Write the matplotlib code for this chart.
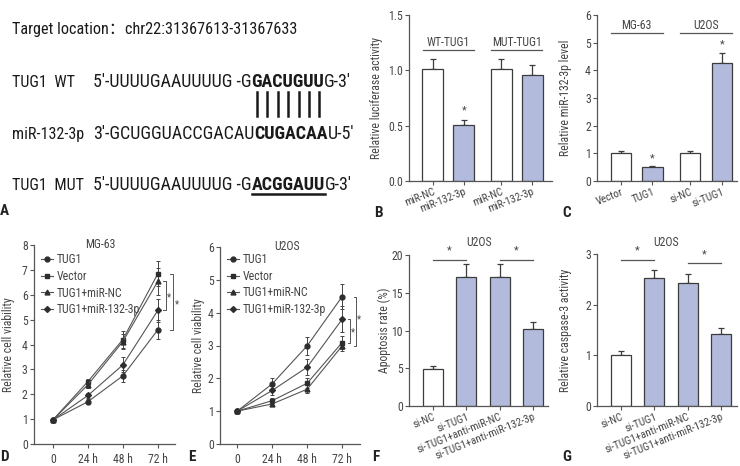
import numpy as np
import matplotlib
matplotlib.use('Agg')
import matplotlib.pyplot as plt
from matplotlib import font_manager as fm

# ---------------- data ----------------
b_labels = ['miR-NC', 'miR-132-3p', 'miR-NC', 'miR-132-3p']
b_values = [1.01, 0.51, 1.01, 0.96]
b_errors = [0.09, 0.045, 0.09, 0.09]
b_colored = [False, True, False, True]
b_groups = ['WT-TUG1', 'MUT-TUG1']
b_yticks = [0.0, 0.5, 1.0, 1.5]

c_labels = ['Vector', 'TUG1', 'si-NC', 'si-TUG1']
c_values = [1.02, 0.49, 1.02, 4.28]
c_errors = [0.06, 0.06, 0.06, 0.35]
c_colored = [False, True, False, True]
c_groups = ['MG-63', 'U2OS']
c_yticks = [0, 1, 2, 3, 4, 5, 6]

time_labels = ['0', '24 h', '48 h', '72 h']
series_names = ['TUG1', 'Vector', 'TUG1+miR-NC', 'TUG1+miR-132-3p']
series_markers = ['o', 's', '^', 'D']

d_tug1 = [0.97, 1.70, 2.74, 4.59]
d_vector = [0.97, 2.51, 4.20, 6.85]
d_mirnc = [0.97, 2.38, 4.12, 6.54]
d_mir132 = [0.97, 1.95, 3.18, 5.37]
d_err_tug1 = [0.05, 0.10, 0.25, 0.38]
d_err_vector = [0.05, 0.12, 0.35, 0.50]
d_err_mirnc = [0.05, 0.12, 0.30, 0.55]
d_err_mir132 = [0.05, 0.12, 0.30, 0.47]

e_tug1 = [1.0, 1.83, 2.99, 4.49]
e_vector = [1.0, 1.32, 1.85, 3.09]
e_mirnc = [1.0, 1.22, 1.67, 2.99]
e_mir132 = [1.0, 1.63, 2.34, 3.80]
e_err_tug1 = [0.03, 0.17, 0.28, 0.37]
e_err_vector = [0.03, 0.08, 0.15, 0.20]
e_err_mirnc = [0.03, 0.06, 0.12, 0.15]
e_err_mir132 = [0.03, 0.15, 0.25, 0.40]

fg_labels = ['si-NC', 'si-TUG1', 'si-TUG1+anti-miR-NC', 'si-TUG1+anti-miR-132-3p']
fg_colored = [False, True, True, True]
f_values = [4.94, 17.04, 17.04, 10.15]
f_errors = [0.30, 1.75, 1.75, 0.93]
f_yticks = [0, 5, 10, 15, 20]
g_values = [1.01, 2.52, 2.42, 1.42]
g_errors = [0.08, 0.17, 0.19, 0.12]
g_yticks = [0, 1, 2, 3]

# ---------------- fonts ----------------
def pick(names):
    for n in names:
        try:
            fm.findfont(fm.FontProperties(family=n), fallback_to_default=False)
            return n
        except Exception:
            pass
    return 'DejaVu Sans'

FONT = pick(['Liberation Sans Narrow', 'Roboto Condensed', 'Liberation Sans', 'Roboto'])
plt.rcParams['font.family'] = [FONT, 'DejaVu Sans']

W, H = 740, 466
fig = plt.figure(figsize=(W / 100, H / 100), dpi=100)
fig.patch.set_facecolor('white')

GRAY = '#555555'
TXT = '#444444'
EDGE = '#3c3c3c'
BLUE = '#b3bbdd'
FS = 8.5      # tick labels
FL = 8.5      # axis labels
FX = 7.8      # rotated x labels


def add_axes_px(l, t, r, b):
    return fig.add_axes([l / W, (H - b) / H, (r - l) / W, (b - t) / H])


def style(ax):
    for s in ['top', 'right']:
        ax.spines[s].set_visible(False)
    for s in ['left', 'bottom']:
        ax.spines[s].set_color(GRAY)
        ax.spines[s].set_linewidth(0.9)
    ax.tick_params(direction='out', length=3, width=0.8, color=GRAY,
                   labelsize=FS, labelcolor=TXT, pad=1.5)
    ax.set_facecolor('none')


def bar_panel(rect, xpos, labels, values, errors, colored, yticks, yfmt,
              ylabel, ylabel_x, width, rot=22):
    ax = add_axes_px(*rect)
    style(ax)
    colors = [BLUE if c else 'white' for c in colored]
    ax.errorbar(xpos, values, yerr=[np.zeros(len(values)), errors], fmt='none',
                ecolor=EDGE, elinewidth=0.9, capsize=2.5, capthick=0.9, zorder=1)
    ax.bar(xpos, values, width=width, color=colors, edgecolor=EDGE,
           linewidth=0.9, zorder=2)
    ax.set_ylim(yticks[0], yticks[-1])
    ax.set_yticks(yticks)
    ax.set_yticklabels([yfmt.format(v) for v in yticks])
    ax.set_xticks(xpos)
    ax.set_xticklabels(labels, rotation=rot, ha='right', va='top',
                       rotation_mode='anchor', fontsize=FX)
    ax.tick_params(axis='x', pad=1.0)
    ax.set_ylabel(ylabel, fontsize=FL, color=TXT)
    ax.yaxis.set_label_coords(ylabel_x, 0.5)
    return ax


def hline(ax, x0, x1, y):
    ax.plot([x0, x1], [y, y], color=GRAY, lw=0.9, clip_on=False)


def star(ax, x, y, size=8):
    ax.text(x, y, '*', ha='center', va='center', fontsize=size, color=TXT,
            clip_on=False)


# ---------------- panel B ----------------
xb = [0, 1, 2.2, 3.2]
axB = bar_panel((409, 15, 552, 181), xb, b_labels, b_values, b_errors, b_colored,
                b_yticks, '{:.1f}', 'Relative luciferase activity', -0.18, 0.68)
axB.set_xlim(-0.77, 3.84)
for gi, name in enumerate(b_groups):
    x0, x1 = xb[2 * gi] - 0.32, xb[2 * gi + 1] + 0.32
    hline(axB, x0, x1, 1.18)
    axB.text((x0 + x1) / 2, 1.255, name, ha='center', va='center', fontsize=FS, color=TXT)
star(axB, xb[1], 0.64)

# ---------------- panel C ----------------
xc = [0, 1, 2.2, 3.2]
axC = bar_panel((597, 15, 737, 181), xc, c_labels, c_values, c_errors, c_colored,
                c_yticks, '{:d}', 'Relative miR-132-3p level', -0.18, 0.64)
axC.set_xlim(-0.76, 3.68)
for gi, name in enumerate(c_groups):
    x0, x1 = xc[2 * gi] - 0.32, xc[2 * gi + 1] + 0.32
    hline(axC, x0, x1, 5.35)
    axC.text((x0 + x1) / 2, 5.62, name, ha='center', va='center', fontsize=FS, color=TXT)
star(axC, xc[1], 0.8)
star(axC, xc[3], 4.95)


# ---------------- panels D / E ----------------
def line_panel(rect, xlim, ytop, title, title_x, vals, errs, ylabel_x, legend_anchor):
    ax = add_axes_px(*rect)
    style(ax)
    xs = np.arange(len(time_labels))
    for name, mk, v, e in zip(series_names, series_markers, vals, errs):
        ax.errorbar(xs, v, yerr=e, fmt='none', ecolor='#444444', elinewidth=0.7,
                    capsize=1.3, capthick=0.7, zorder=2)
        ms = 3.0 if mk == 'D' else 3.5
        ax.plot(xs, v, color='#555555', lw=0.8, marker=mk, ms=ms,
                mfc='#2e2e2e', mec='#2e2e2e', label=name, zorder=3)
    ax.set_xlim(*xlim)
    ax.set_ylim(0, ytop)
    ax.set_yticks(range(0, ytop + 1))
    ax.set_xticks(xs)
    ax.set_xticklabels(time_labels)
    ax.tick_params(axis='x', pad=3.5)
    ax.set_ylabel('Relative cell viability', fontsize=FL, color=TXT)
    ax.yaxis.set_label_coords(ylabel_x, 0.5)
    ax.text(title_x, 1.005, title, transform=ax.transAxes, ha='center', va='center',
            fontsize=FS, color=TXT)
    leg = ax.legend(loc='upper left', bbox_to_anchor=legend_anchor, frameon=False,
                    fontsize=FS, handlelength=1.0, handletextpad=0.35,
                    labelspacing=0.32, borderaxespad=0, borderpad=0)
    for t in leg.get_texts():
        t.set_color(TXT)
    return ax


def bracket(ax, x, y0, y1, sx, sy):
    ax.plot([x - 0.07, x, x, x - 0.07], [y0, y0, y1, y1], color=GRAY, lw=0.7,
            clip_on=False)
    star(ax, sx, sy, 7)


axD = line_panel((34, 245, 175, 444), (-0.54, 3.49), 8, 'MG-63', 0.47,
                 [d_tug1, d_vector, d_mirnc, d_mir132],
                 [d_err_tug1, d_err_vector, d_err_mirnc, d_err_mir132], -0.135,
                 (0.05, 0.96))
bracket(axD, 3.23, d_mirnc[-1], d_mir132[-1], 3.33, 5.9)
bracket(axD, 3.43, d_vector[-1], d_tug1[-1], 3.54, 5.63)

axE = line_panel((220, 247, 360, 444), (-0.49, 3.51), 6, 'U2OS', 0.48,
                 [e_tug1, e_vector, e_mirnc, e_mir132],
                 [e_err_tug1, e_err_vector, e_err_mirnc, e_err_mir132], -0.107,
                 (0.05, 0.97))
bracket(axE, 3.23, e_mir132[-1], e_vector[-1], 3.31, 3.4)
bracket(axE, 3.40, e_tug1[-1], e_mirnc[-1], 3.49, 3.8)

# ---------------- panels F / G ----------------
xf = [0, 1, 2, 3]
axF = bar_panel((409, 255, 548, 406), xf, fg_labels, f_values, f_errors, fg_colored,
                f_yticks, '{:d}', 'Apoptosis rate (%)', -0.13, 0.6)
axF.set_xlim(-0.72, 3.45)
hline(axF, 0, 1, 19.3)
hline(axF, 2, 3, 19.3)
star(axF, 0.5, 20.6)
star(axF, 2.5, 20.6)
axF.text(1.38, 21.7, 'U2OS', ha='center', va='center', fontsize=FS, color=TXT)

axG = bar_panel((597, 254, 737, 406), xf, fg_labels, g_values, g_errors, fg_colored,
                g_yticks, '{:d}', 'Relative caspase-3 activity', -0.18, 0.6)
axG.set_xlim(-0.72, 3.48)
hline(axG, 0, 1, 2.89)
hline(axG, 2, 3, 2.82)
star(axG, 0.5, 3.07)
star(axG, 2.5, 2.99)
axG.text(1.35, 3.23, 'U2OS', ha='center', va='center', fontsize=FS, color=TXT)

# ---------------- panel A (sequence text) ----------------
axA = fig.add_axes([0, 0, 1, 1])
axA.set_xlim(0, W)
axA.set_ylim(H, 0)
axA.axis('off')
axA.patch.set_alpha(0)
R = fig.canvas.get_renderer()


def tw(s, size, bold):
    fp = fm.FontProperties(family=FONT, size=size, weight='bold' if bold else 'normal')
    w, h, d = R.get_text_width_height_descent(s, fp, ismath=False)
    return w


wt_pieces = [("5'-UUUUGAAUUUUG -G", False), ('GACUGUU', True), ("G-3'", False)]
mir_pieces = [("3'-GCUGGUACCGACAU", False), ('CUGACAA', True), ("U-5'", False)]
mut_pieces = [("5'-UUUUGAAUUUUG -G", False), ('ACGGAUU', True), ("G-3'", False)]

base = 12.0
wt_w = sum(tw(s, base, b) for s, b in wt_pieces)
SZ = base * 257.0 / wt_w
title_str = 'Target location：chr22:31367613-31367633'
title_w = tw('Target location:  chr22:31367613-31367633', base, False)
SZT = min(base * 280.0 / title_w, SZ * 1.05)
# label size so that 'miR-132-3p' ends just before the sequence start
SZL = min(SZ, base * 72.0 / tw('miR-132-3p', base, False))

axA.text(12, 34, title_str, fontsize=SZT, ha='left', va='baseline', color='#1a1a1a',
         family=[FONT, 'Noto Sans CJK SC', 'DejaVu Sans'])

SEQ_X = 93


def draw_seq(y, label, pieces, underline_bold=False, bars=None):
    axA.text(12, y, label, fontsize=SZL, ha='left', va='baseline', color='#1a1a1a')
    x = SEQ_X
    for s, b in pieces:
        axA.text(x, y, s, fontsize=SZ, ha='left', va='baseline', color='#1a1a1a',
                 fontweight='bold' if b else 'normal')
        w = tw(s, SZ, b)
        if b and underline_bold:
            axA.plot([x, x + w], [y + 4, y + 4], color='#1a1a1a', lw=1.8)
        if b and bars is not None:
            for k in range(len(s)):
                c = x + (tw(s[:k], SZ, True) if k else 0) + tw(s[k], SZ, True) / 2
                axA.plot([c, c], bars, color='#1a1a1a', lw=1.8)
        x += w


draw_seq(87, 'TUG1  WT', wt_pieces, bars=(92, 116))
draw_seq(139, 'miR-132-3p', mir_pieces)
draw_seq(190, 'TUG1  MUT', mut_pieces, underline_bold=True)

# ---------------- panel letters ----------------
for letter, x, y in [('A', 0, 211), ('B', 374, 213), ('C', 562, 213),
                     ('D', 0, 457), ('E', 188, 457), ('F', 372, 457), ('G', 562, 457)]:
    axA.text(x, y, letter, fontsize=11, fontweight='bold', ha='left', va='center',
             color='#222222')

fig.savefig('out.png', dpi=100, facecolor='white')
